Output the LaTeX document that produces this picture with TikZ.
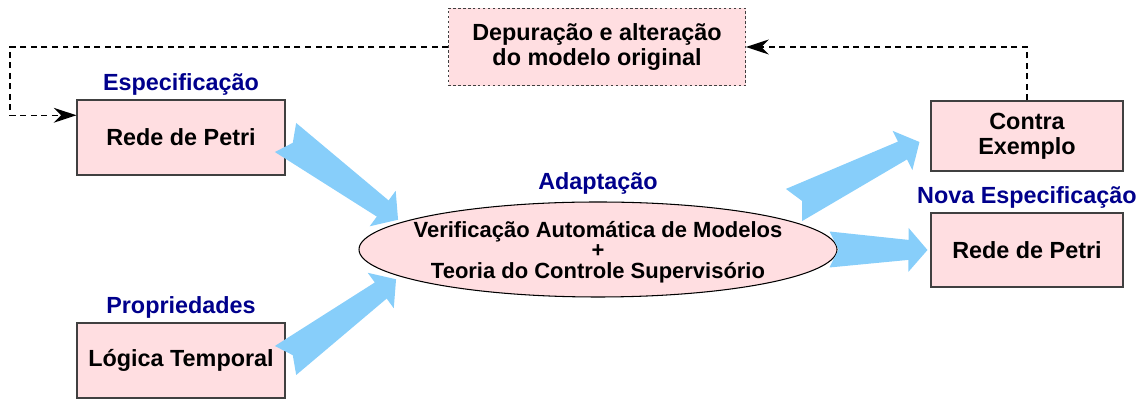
\documentclass[tikz,border=0pt]{standalone}
\usepackage{fontspec}
\setmainfont{Liberation Sans}
\usepackage{tikz}
\usetikzlibrary{shapes, positioning, calc, arrows.meta}

\definecolor{boxpink}{RGB}{255,222,225}
\definecolor{fatblue}{RGB}{135,206,250}
\definecolor{lblblue}{RGB}{0,0,140}

% broad blue arrow from #1 (tail) to #2 (tip)
\newcommand{\fatarrow}[2]{%
\fill[fatblue] ($(#1)!0.36cm!90:(#2)$) -- ($(#1)!0.18cm!(#2)$) -- ($(#1)!0.36cm!-90:(#2)$)
  -- ($(#2)!0.38cm!(#1)!0.2cm!-90:(#2)$) -- ($(#2)!0.38cm!(#1)!0.44cm!-90:(#2)$)
  -- (#2)
  -- ($(#2)!0.38cm!(#1)!0.44cm!90:(#2)$) -- ($(#2)!0.38cm!(#1)!0.2cm!90:(#2)$) -- cycle;
}

\begin{document}
\begin{tikzpicture}
\tikzstyle{pinkbox}=[rectangle, draw=black!75, line width=0.6pt, fill=boxpink, align=center, inner sep=0pt, font=\fontsize{13.3}{14.2}\selectfont\bfseries]
\tikzstyle{lbl}=[text=lblblue, inner sep=0pt, font=\fontsize{13.3}{14.2}\selectfont\bfseries]
\tikzstyle{feedback}=[dash pattern=on 3.4pt off 2.6pt, line width=0.8pt, -{Stealth[length=13pt,width=8.5pt]}]
\useasboundingbox (0,0) rectangle (22.82,-7.98);

\node[pinkbox, minimum width=4.16cm, minimum height=1.5cm] (redeL) at (3.62,-2.75) {Rede de Petri};
\node[pinkbox, minimum width=4.16cm, minimum height=1.5cm] (logica) at (3.62,-7.21) {Lógica Temporal};
\node[pinkbox, minimum width=5.94cm, minimum height=1.55cm, line width=0.5pt, dash pattern=on 1.4pt off 1.4pt] (dep) at (11.94,-0.94) {Depuração e alteração\\do modelo original};
\node[pinkbox, minimum width=3.84cm, minimum height=1.4cm] (contra) at (20.54,-2.72) {Contra\\Exemplo};
\node[pinkbox, minimum width=3.84cm, minimum height=1.48cm] (redeR) at (20.54,-5.0) {Rede de Petri};
\node[ellipse, draw=black, line width=0.6pt, fill=boxpink, minimum width=9.56cm, minimum height=1.9cm, inner sep=0pt] (ell) at (11.96,-4.99) {};
\node[align=center, inner sep=0pt, font=\fontsize{12.5}{11.6}\selectfont\bfseries] (ellTxt) at ([yshift=-0.05cm]ell.center) {Verificação Automática de Modelos\\+\\Teoria do Controle Supervisório};

\node[lbl, above=0.08cm of redeL] (lblEsp) {Especificação};
\node[lbl, above=0.08cm of logica] (lblProp) {Propriedades};
\node[lbl, above=0.14cm of ell] (lblAdap) {Adaptação};
\node[lbl, above=0.08cm of redeR] (lblNova) {Nova Especificação};

% broad arrows
\coordinate (t1) at ([xshift=-0.24cm]ell.171);
\coordinate (t2) at ([xshift=-0.28cm]ell.189);
\coordinate (s3) at ([shift={(3.92,0.89)}]ell.center);
\coordinate (t3) at ([shift={(-0.22,-0.12)}]contra.west);
\coordinate (s4) at ([xshift=-0.16cm]ell.east);
\coordinate (t4) at ([xshift=-0.06cm]redeR.west);
\fatarrow{redeL.east}{t1}
\fatarrow{logica.east}{t2}
\fatarrow{s3}{t3}
\fatarrow{s4}{t4}

% feedback loop
\coordinate (corner) at (0.2,-1.5);
\draw[feedback] (contra.north) |- (dep.east);
\draw[feedback] (dep.west) -| (corner) |- (redeL.168);

\end{tikzpicture}
\end{document}
